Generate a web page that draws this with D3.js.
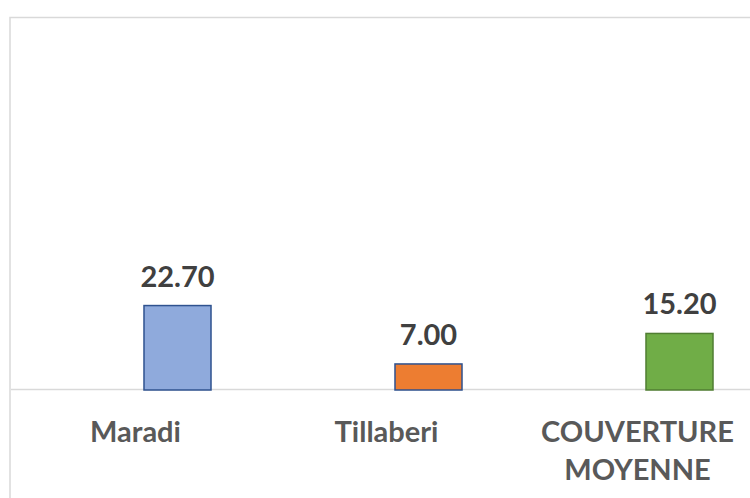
<!DOCTYPE html>
<html>
<head>
<meta charset="utf-8">
<script src="https://cdn.jsdelivr.net/npm/d3@7"></script>
<style>
  html, body { margin: 0; padding: 0; background: #ffffff; }
  svg { display: block; }
</style>
</head>
<body>
<svg id="chart" width="750" height="498"></svg>
<script>
const categories = ["Maradi", "Tillaberi", "COUVERTURE MOYENNE"];
const values = [22.70, 7.00, 15.20];
const yDomain = [0, 100];

const fills = ["#8faadc", "#ed7d31", "#70ad47"];
const strokes = ["#2f528f", "#2f528f", "#507e32"];

const svg = d3.select("#chart");
const W = 750, H = 498;

// chart border (cropped at right and bottom)
svg.append("rect")
  .attr("x", 10).attr("y", 17.5)
  .attr("width", 800).attr("height", 600)
  .attr("fill", "#ffffff")
  .attr("stroke", "#d9d9d9").attr("stroke-width", 1.5);

const x = d3.scaleBand().domain(categories).range([52, 805]).padding(0);
const y = d3.scaleLinear().domain(yDomain).range([390, 18]);
const barW = x.bandwidth() * 0.267;
const labelShift = -42;

// baseline
svg.append("line")
  .attr("x1", 11).attr("x2", W)
  .attr("y1", y(0) - 0.5).attr("y2", y(0) - 0.5)
  .attr("stroke", "#d9d9d9").attr("stroke-width", 1.5);

const data = categories.map((c, i) => ({ c, v: values[i], i }));

svg.selectAll("rect.bar").data(data).enter().append("rect")
  .attr("class", "bar")
  .attr("x", d => x(d.c) + x.bandwidth() / 2 - barW / 2)
  .attr("y", d => y(d.v))
  .attr("width", barW)
  .attr("height", d => y(0) - y(d.v))
  .attr("fill", d => fills[d.i])
  .attr("stroke", d => strokes[d.i])
  .attr("stroke-width", 1.5);

const fontFam = "Lato, 'Liberation Sans', Arial, sans-serif";

svg.selectAll("text.val").data(data).enter().append("text")
  .attr("class", "val")
  .attr("x", d => x(d.c) + x.bandwidth() / 2)
  .attr("y", d => y(d.v) - 19)
  .attr("text-anchor", "middle")
  .attr("font-family", fontFam)
  .attr("font-weight", "bold")
  .attr("font-size", 29)
  .attr("fill", "#404040")
  .text(d => d3.format(".2f")(d.v));

// category axis labels (wrapped)
const lab = svg.selectAll("text.cat").data(data).enter().append("text")
  .attr("class", "cat")
  .attr("text-anchor", "middle")
  .attr("font-family", fontFam)
  .attr("font-weight", "bold")
  .attr("font-size", 29)
  .attr("fill", "#595959");

lab.each(function(d) {
  const words = d.c.split(" ");
  const t = d3.select(this);
  const cx = x(d.c) + x.bandwidth() / 2 + labelShift;
  words.forEach((w, k) => {
    t.append("tspan")
      .attr("x", cx)
      .attr("y", 442 + k * 38)
      .text(w);
  });
});
</script>
</body>
</html>
